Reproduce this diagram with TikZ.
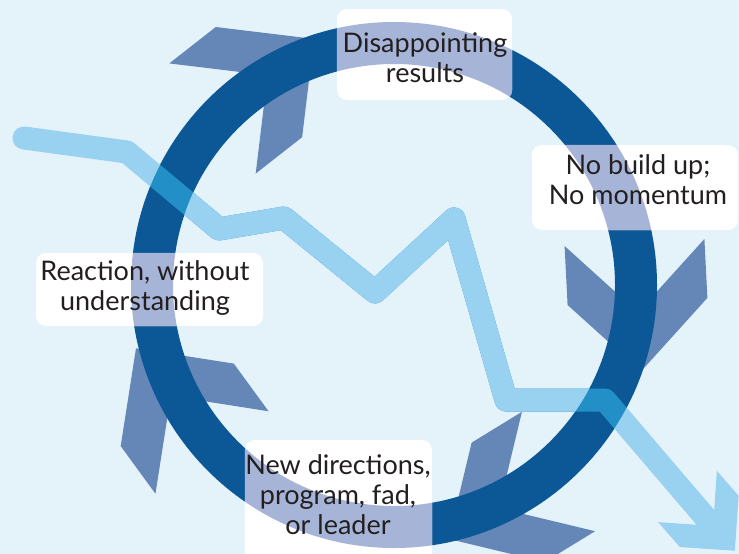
\documentclass[tikz,border=0pt]{standalone}
\usepackage{fontspec}
\setmainfont{Lato}
\definecolor{bgc}{HTML}{E4F2FA}
\definecolor{ringc}{HTML}{0C5896}
\definecolor{ringlite}{HTML}{A6B5D7}
\definecolor{chevc}{HTML}{6587B8}
\definecolor{zigc}{HTML}{99D1F1}
\definecolor{overc}{HTML}{228FC7}
\definecolor{txtc}{HTML}{231F20}
\tikzset{
  pics/chevron/.style n args={2}{code={
    \fill (0,-#1) -- (#1,0) -- (0,#1) -- (#2,#1) -- ({#1+#2},0) -- (#2,-#1) -- cycle;}},
  ringline/.style={line width=42pt},
  zigline/.style={line width=23pt, line cap=round, line join=round},
  lbl/.style={rectangle, rounded corners=10pt, fill=white, inner sep=0pt},
  txt/.style={align=center, font=\fontsize{27}{30}\selectfont, text=txtc, inner sep=0pt}
}
\begin{document}
\begin{tikzpicture}[x=1pt,y=-1pt]
\clip (0,0) rectangle (739,554);
\fill[bgc] (0,0) rectangle (739,554);
\coordinate (c) at (394,285);
% chevrons on the ring
\pic[fill=chevc, rotate=38.1] at (212.5,118.5) {chevron={70}{59}};
\pic[fill=chevc, rotate=-87.1] at (634.5,242.5) {chevron={70}{59}};
\pic[fill=chevc, rotate=-148.5] at (558.5,471.5) {chevron={70}{59}};
\pic[fill=chevc, rotate=126.1] at (212,452.5) {chevron={70}{59}};
% ring
\draw[ringline, ringc] (c) circle[radius=242pt];
% zigzag
\coordinate (z0) at (24,138);
\coordinate (z1) at (127,152);
\coordinate (z2) at (219,229);
\coordinate (z3) at (284,218);
\coordinate (z4) at (375,292);
\coordinate (z5) at (454,219);
\coordinate (z6) at (506,400);
\coordinate (z7) at (605,400);
\coordinate (z8) at (711,524);
\begin{scope}
  \clip (c) circle[radius=263pt];
  \draw[zigline, overc] (z0) -- (z1) -- (z2) -- (z3) -- (z4) -- (z5) -- (z6) -- (z7) -- (z8);
\end{scope}
\begin{scope}[even odd rule]
  \clip (0,0) rectangle (739,554) (c) circle[radius=263pt];
  \draw[zigline, zigc] (z0) -- (z1) -- (z2) -- (z3) -- (z4) -- (z5) -- (z6) -- (z7) -- (z8);
\end{scope}
\begin{scope}
  \clip (c) circle[radius=221pt];
  \draw[zigline, zigc] (z0) -- (z1) -- (z2) -- (z3) -- (z4) -- (z5) -- (z6) -- (z7) -- (z8);
\end{scope}
\pic[fill=zigc, rotate=-48.9] at (687.5,496.5) {chevron={39}{33}};
% label boxes
\node[lbl, minimum width=175pt, minimum height=91pt] (b1) at (424.5,54.5) {};
\node[lbl, minimum width=206pt, minimum height=85pt] (b2) at (635,187.5) {};
\node[lbl, minimum width=227pt, minimum height=73pt] (b3) at (149.5,289.5) {};
\node[lbl, minimum width=187pt, minimum height=130pt] (b4) at (338.5,505) {};
\foreach \b in {b1,b2,b3,b4}{
  \begin{scope}
    \clip[rounded corners=10pt] (\b.north west) rectangle (\b.south east);
    \draw[ringline, ringlite] (c) circle[radius=242pt];
  \end{scope}
}
\node[txt] (t1) at (425,58) {Disappointing\\results};
\node[txt] (t2) at (638,180) {No build up;\\No momentum};
\node[txt] (t3) at (145,288) {Reaction, without\\understanding};
\node[txt] (t4) at (338,495) {New directions,\\program, fad,\\or leader};
\end{tikzpicture}
\end{document}
